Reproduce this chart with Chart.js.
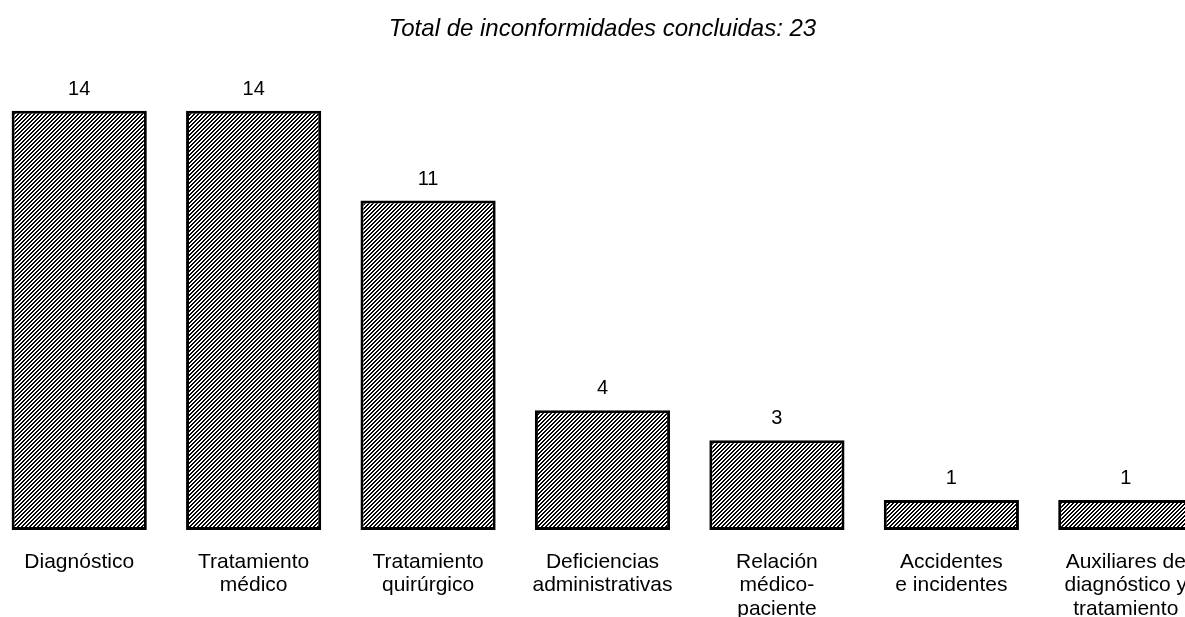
<!DOCTYPE html>
<html>
<head>
<meta charset="utf-8">
<script src="https://cdn.jsdelivr.net/npm/chart.js@4/dist/chart.umd.min.js"></script>
<style>
  html, body { margin: 0; padding: 0; background: #fff; overflow: hidden; }
  #wrap { position: relative; width: 1185px; height: 617px; overflow: hidden; }
  #chart { position: absolute; left: -8px; top: 0; }
</style>
</head>
<body>
<div id="wrap"><canvas id="chart" width="1221" height="617"></canvas></div>
<script>
// datos
const categorias = [
    ["Diagnóstico"],
    ["Tratamiento", "médico"],
    ["Tratamiento", "quirúrgico"],
    ["Deficiencias", "administrativas"],
    ["Relación", "médico-", "paciente"],
    ["Accidentes", "e incidentes"],
    ["Auxiliares de", "diagnóstico y", "tratamiento"]
];
const valores = [14, 14, 11, 4, 3, 1, 1];
const titulo = "Total de inconformidades concluidas: 23";

// patrón de rayado diagonal (pixeles nítidos)
function crearRayado() {
    const c = document.createElement("canvas");
    c.width = 4; c.height = 4;
    const g = c.getContext("2d");
    g.fillStyle = "#fff";
    g.fillRect(0, 0, 4, 4);
    g.fillStyle = "#000";
    for (let i = 0; i < 4; i++) {
        g.fillRect(3 - i, i, 1, 1);
        g.fillRect((4 - i) % 4, i, 1, 1);
    }
    return g.createPattern(c, "repeat");
}

// etiquetas de valor encima de las barras
const etiquetasValor = {
    id: "etiquetasValor",
    afterDatasetsDraw(chart) {
        const ctx = chart.ctx;
        const meta = chart.getDatasetMeta(0);
        ctx.save();
        ctx.font = "20px 'Liberation Sans', Arial, sans-serif";
        ctx.fillStyle = "#000";
        ctx.textAlign = "center";
        ctx.textBaseline = "alphabetic";
        meta.data.forEach((bar, i) => {
            ctx.fillText(String(valores[i]), bar.x, bar.y - 16);
        });
        ctx.restore();
    }
};

const ctx = document.getElementById("chart").getContext("2d");
new Chart(ctx, {
    type: "bar",
    data: {
        labels: categorias,
        datasets: [{
            data: valores,
            backgroundColor: crearRayado(),
            borderColor: "#000",
            borderWidth: 3,
            borderSkipped: false,
            categoryPercentage: 1,
            barPercentage: 0.775
        }]
    },
    options: {
        responsive: false,
        animation: false,
        devicePixelRatio: 1,
        layout: { padding: 0 },
        plugins: {
            legend: { display: false },
            tooltip: { enabled: false },
            title: {
                display: true,
                text: titulo,
                color: "#000",
                font: { family: "'Liberation Sans', Arial, sans-serif", size: 24, style: "italic", weight: "normal" },
                padding: { top: 15, bottom: 7 }
            }
        },
        scales: {
            x: {
                grid: { display: false },
                border: { display: false },
                ticks: {
                    color: "#000",
                    autoSkip: false,
                    maxRotation: 0,
                    padding: 12,
                    font: { family: "'Liberation Sans', Arial, sans-serif", size: 21, lineHeight: 1.12 }
                },
                afterFit: function (s) { s.height = 87; }
            },
            y: {
                display: false,
                min: 0,
                max: 16
            }
        }
    },
    plugins: [etiquetasValor]
});
</script>
</body>
</html>
